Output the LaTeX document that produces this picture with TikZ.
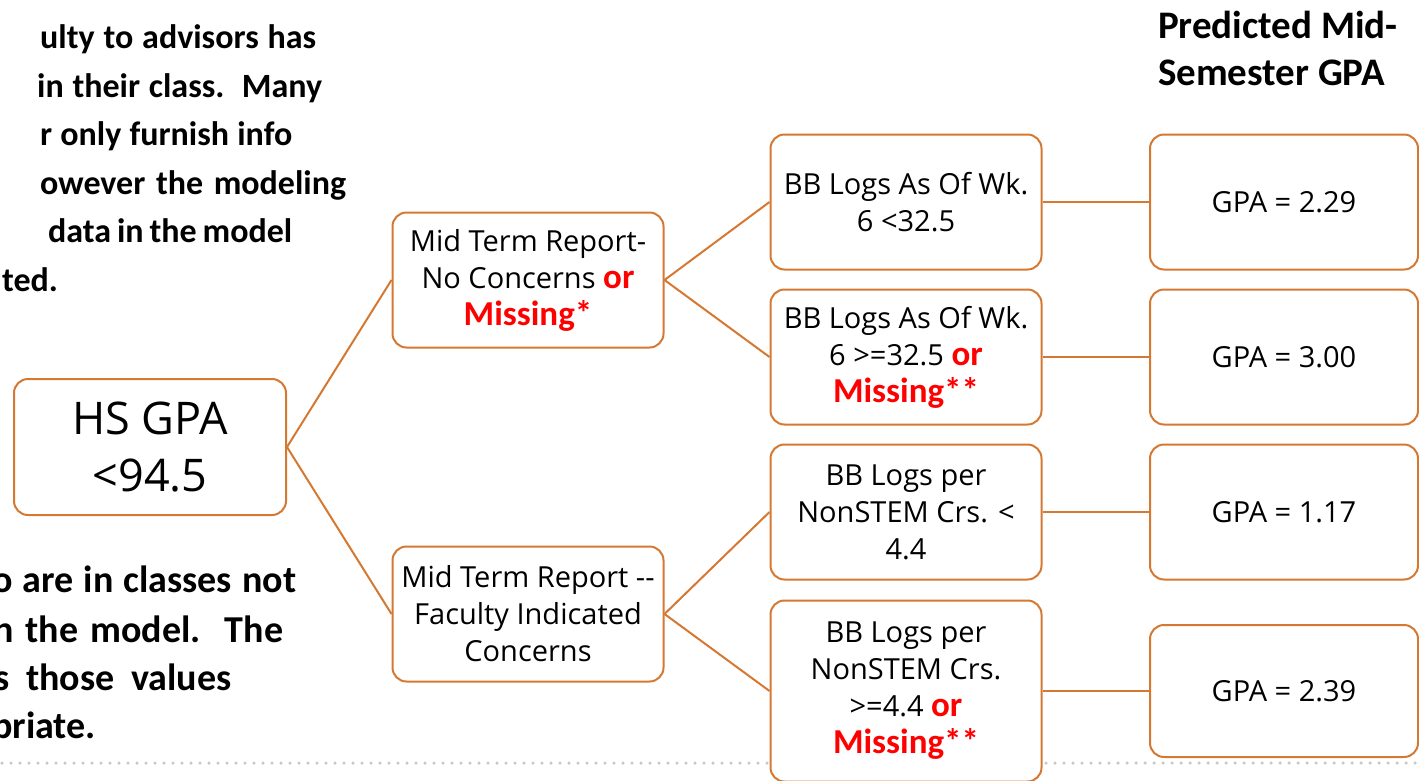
\documentclass[tikz,border=0pt]{standalone}
\usepackage{fontspec}
\setmainfont{Open Sans}
\newfontfamily\calibri{Carlito}
\usetikzlibrary{positioning}
\definecolor{boxorange}{RGB}{212,120,50}
\definecolor{dotgray}{RGB}{200,200,200}
\newcommand{\redor}[1]{{\calibri\bfseries\color{red}\fontsize{35}{37}\selectfont #1}}
\tikzset{x=1pt, y=-1pt, % one unit is one pixel of the slide
        splitbox/.style={ % every box of the tree
            draw=boxorange,
            line width=2pt,
            rounded corners=14pt,
            fill=white,
            minimum width=271pt,
            minimum height=135pt,
            inner sep=0pt,
            align=center,
            font=\fontsize{29}{37}\selectfont},
        note/.style={ % bold side text of the slide
            inner sep=0pt,
            anchor=base west,
            font=\calibri\bfseries\fontsize{34}{48}\selectfont},
        every edge/.style={ % the branches
            draw=boxorange,
            line width=2pt}
        }
\begin{document}
\begin{tikzpicture}
    \useasboundingbox (0,0) rectangle (1419,780);
    % dotted footer line, behind the boxes
    \draw[dotgray, line width=3.5pt, line cap=round, dash pattern=on 0pt off 9pt] (2,763) -- (1419,763);

    % side notes, justified lines cut by the slide edge
    \foreach \x/\y/\w/\txt [count=\i] in {40/48/276/{ulty to advisors has},
                                          37/97/285/{in their class.~~Many},
                                          40/145/252/{r only furnish info},
                                          40/194/306/{owever the modeling},
                                          48/242/244/{data in the model},
                                          2/291/56/{ted.}}
        \node[note] (topnote\i) at (\x,\y) {\makebox[\w pt][s]{\txt}};
    \foreach \x/\y/\w/\txt [count=\i] in {-8/592/304/{o are in classes not},
                                          -7/642/290/{n the model.~~The},
                                          -6/690/237/{s those values},
                                          -8/738/105/{priate.}}
        \node[note, font=\calibri\bfseries\fontsize{38}{48}\selectfont] (lownote\i) at (\x,\y) {\makebox[\w pt][s]{\txt}};

    \node[note, font=\calibri\bfseries\fontsize{39}{47}\selectfont, align=left] (header) at (1158,85)
        {Predicted Mid-\\Semester GPA};

    % tree
    \node[splitbox, minimum width=272pt, minimum height=136pt, font=\fontsize{45}{57}\selectfont] (hs) at (150,447) {HS GPA\\<94.5};

    \node[splitbox] (mtr1) at (528,280) {Mid Term Report-\\No Concerns \redor{or}\\\redor{Missing*}};
    \node[splitbox] (mtr2) at (528,614) {Mid Term Report -{}-\\Faculty Indicated\\Concerns};

    \node[splitbox] (bb1) at (906,202) {BB Logs As Of Wk.\\6 <32.5};
    \node[splitbox] (bb2) at (906,357) {BB Logs As Of Wk.\\6 >=32.5 \redor{or}\\\redor{Missing**}};
    \node[splitbox] (bb3) at (906,512) {BB Logs per\\NonSTEM Crs. <\\4.4};
    \node[splitbox, minimum height=181pt] (bb4) at (906,691) {BB Logs per\\NonSTEM Crs.\\>=4.4 \redor{or}\\\redor{Missing**}};

    \node[splitbox, minimum width=268pt] (gpa1) at (1284,202) {GPA = 2.29};
    \node[splitbox, minimum width=268pt] (gpa2) at (1284,357) {GPA = 3.00};
    \node[splitbox, minimum width=268pt] (gpa3) at (1284,512) {GPA = 1.17};
    \node[splitbox, minimum width=268pt, minimum height=132pt] (gpa4) at (1284,691) {GPA = 2.39};

    \draw
        (hs.east)
            edge (mtr1.west)
            edge (mtr2.west)
        (mtr1.east)
            edge (bb1.west)
            edge (bb2.west)
        (mtr2.east)
            edge (bb3.west)
            edge (bb4.west)
        (bb1) edge (gpa1)
        (bb2) edge (gpa2)
        (bb3) edge (gpa3)
        (bb4) edge (gpa4);
\end{tikzpicture}
\end{document}
